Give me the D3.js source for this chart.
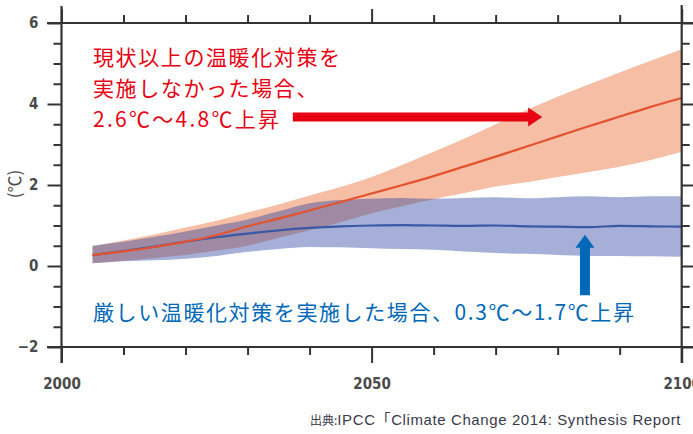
<!DOCTYPE html>
<html><head><meta charset="utf-8">
<script src="https://cdn.jsdelivr.net/npm/d3@7"></script>
<style>html,body{margin:0;padding:0;background:#fff;overflow:hidden}</style>
</head><body><svg id="chart" width="693" height="434"></svg>
<script>
// ---- data ----
const years     = [2005,2010,2015,2020,2025,2030,2035,2040,2045,2050,2055,2060,2065,2070,2075,2080,2085,2090,2095,2100];
const highMean  = [0.27,0.36,0.47,0.60,0.76,0.98,1.17,1.37,1.58,1.79,2.00,2.22,2.46,2.70,2.95,3.20,3.45,3.69,3.93,4.15];
const highUpper = [0.49,0.63,0.78,0.95,1.12,1.32,1.52,1.74,1.95,2.20,2.50,2.82,3.15,3.50,3.85,4.18,4.48,4.78,5.07,5.35];
const highLower = [0.07,0.13,0.20,0.27,0.38,0.50,0.70,0.88,1.08,1.30,1.48,1.65,1.80,1.96,2.07,2.20,2.32,2.45,2.62,2.82];
const lowMean   = [0.27,0.37,0.48,0.60,0.71,0.80,0.88,0.94,0.98,1.00,1.01,1.00,0.99,1.00,0.98,0.97,0.96,0.99,0.98,0.97];
const lowUpper  = [0.50,0.60,0.72,0.85,1.00,1.15,1.35,1.55,1.63,1.66,1.68,1.66,1.68,1.70,1.67,1.70,1.72,1.70,1.72,1.72];
const lowLower  = [0.07,0.12,0.14,0.18,0.25,0.35,0.42,0.47,0.46,0.44,0.42,0.40,0.36,0.32,0.30,0.27,0.25,0.25,0.24,0.23];
const yTickLabels = [-2,0,2,4,6];
const xTickLabels = [2000,2050,2100];
const yLabel = "(℃)";
const highText = ["現状以上の温暖化対策を","実施しなかった場合、","2.6℃～4.8℃上昇"];
const lowText = "厳しい温暖化対策を実施した場合、0.3℃～1.7℃上昇";
const sourcePrefix = "出典:";
const sourceRest = "IPCC「Climate Change 2014: Synthesis Report";
// annotation arrows in data coordinates
const highArrow = {x0:2037.3, x1:2077.5, y:3.68};
const lowArrow  = {x:2084.4, y0:-0.72, y1:0.77};

// ---- layout ----
const svg = d3.select("#chart");
const x = d3.scaleLinear().domain([2000,2100]).range([61.5,681.7]);
const y = d3.scaleLinear().domain([-2,6]).range([347,23]);
const axisColor = "#333";
const tickFont = "'DejaVu Sans Condensed','Liberation Sans Narrow',sans-serif";

const rows = years.map((yr,i)=>({yr, hm:highMean[i], hu:highUpper[i], hl:highLower[i], lm:lowMean[i], lu:lowUpper[i], ll:lowLower[i]}));

const area = (lo,hi)=>d3.area().x(d=>x(d.yr)).y0(d=>y(d[lo])).y1(d=>y(d[hi])).curve(d3.curveMonotoneX);
const line = key=>d3.line().x(d=>x(d.yr)).y(d=>y(d[key])).curve(d3.curveMonotoneX);

svg.append("path").datum(rows).attr("d",area("hl","hu")).attr("fill","#f5bea5");
svg.append("path").datum(rows).attr("d",area("ll","lu")).attr("fill","#2840a0").attr("fill-opacity",0.42);
svg.append("path").datum(rows).attr("d",line("lm")).attr("fill","none").attr("stroke","#3b58a6").attr("stroke-width",2.2);
svg.append("path").datum(rows).attr("d",line("hm")).attr("fill","none").attr("stroke","#e5522e").attr("stroke-width",2.2);

// ---- axes ----
function styleAxis(g){
  g.select(".domain").remove();
  g.selectAll(".tick line").attr("stroke",axisColor).attr("stroke-width",2);
  g.selectAll(".tick text").attr("fill","#4a4a4a").style("font-family",tickFont).style("font-size","15px").style("font-weight","bold");
}
const minorY = d3.range(-2,6.01,0.5).filter(v=>v%2!==0);
const minorX = d3.range(2000,2101,10).filter(v=>v%50!==0);

svg.append("g").attr("transform",`translate(${x(2000)},0)`)
  .call(d3.axisLeft(y).tickValues(yTickLabels).tickSize(14).tickPadding(9).tickFormat(d=>d<0?"\u2212"+Math.abs(d):d)).call(styleAxis);
svg.append("g").attr("transform",`translate(${x(2000)},0)`)
  .call(d3.axisLeft(y).tickValues(minorY).tickSize(8).tickFormat("")).call(styleAxis);
svg.append("g").attr("transform",`translate(${x(2100)},0)`)
  .call(d3.axisRight(y).tickValues(yTickLabels).tickSize(12).tickFormat("")).call(styleAxis);
svg.append("g").attr("transform",`translate(${x(2100)},0)`)
  .call(d3.axisRight(y).tickValues(minorY).tickSize(8).tickFormat("")).call(styleAxis);
svg.append("g").attr("transform",`translate(0,${y(-2)})`)
  .call(d3.axisBottom(x).tickValues(xTickLabels).tickSize(16).tickPadding(15).tickFormat(d3.format("d"))).call(styleAxis);
svg.append("g").attr("transform",`translate(0,${y(-2)})`)
  .call(d3.axisBottom(x).tickValues(minorX).tickSize(8).tickFormat("")).call(styleAxis);
svg.append("g").attr("transform",`translate(0,${y(6)})`)
  .call(d3.axisTop(x).tickValues(xTickLabels).tickSize(14).tickFormat("")).call(styleAxis);
svg.append("g").attr("transform",`translate(0,${y(6)})`)
  .call(d3.axisTop(x).tickValues(minorX).tickSize(8).tickFormat("")).call(styleAxis);

// frame lines
const frame = svg.append("g").attr("stroke",axisColor).attr("stroke-width",2.2);
frame.append("line").attr("x1",x(2000)).attr("x2",x(2000)).attr("y1",6).attr("y2",363);
frame.append("line").attr("x1",x(2100)).attr("x2",x(2100)).attr("y1",5).attr("y2",363);
frame.append("line").attr("x1",47).attr("x2",693).attr("y1",y(6)).attr("y2",y(6));
frame.append("line").attr("x1",47).attr("x2",693).attr("y1",y(-2)).attr("y2",y(-2));

// y label
svg.append("text").attr("transform",`translate(21,184) rotate(-90)`).attr("text-anchor","middle")
  .attr("fill","#4a4a4a").style("font-family","'Noto Sans CJK JP',sans-serif").style("font-size","17px").text(yLabel);

// ---- annotations ----
const jpFont = "'Noto Sans CJK JP','Noto Sans',sans-serif";
const red = "#e60012", blue = "#0068b7";
svg.append("g").selectAll("text").data(highText).join("text")
  .attr("x",93).attr("y",(d,i)=>65+i*31)
  .attr("fill",red).style("font-family",jpFont).style("font-size","21px")
  .style("letter-spacing",(d,i)=>i===2?"0px":"1.6px")
  .each(function(d,i){ if(i===2) d3.select(this).attr("textLength",186).attr("lengthAdjust","spacing"); })
  .text(d=>d);
svg.append("text").attr("x",93).attr("y",320)
  .attr("fill",blue).style("font-family",jpFont).style("font-size","21px").style("letter-spacing","1.6px").text(lowText);

// red arrow
{
  const xa=x(highArrow.x0), xb=x(highArrow.x1), yc=y(highArrow.y), head=14, hw=9.5, bw=4.5;
  svg.append("path").attr("fill",red)
    .attr("d",`M${xa},${yc-bw}L${xb-head},${yc-bw}L${xb-head},${yc-hw}L${xb},${yc}L${xb-head},${yc+hw}L${xb-head},${yc+bw}L${xa},${yc+bw}Z`);
}
// blue arrow
{
  const xc=x(lowArrow.x), yb=y(lowArrow.y0), yt=y(lowArrow.y1), head=13, hw=9.5, bw=5;
  svg.append("path").attr("fill",blue)
    .attr("d",`M${xc-bw},${yb}L${xc-bw},${yt+head}L${xc-hw},${yt+head}L${xc},${yt}L${xc+hw},${yt+head}L${xc+bw},${yt+head}L${xc+bw},${yb}Z`);
}

// source
const src = svg.append("text").attr("x",310).attr("y",425).attr("fill","#3a3a4a")
  .style("font-family","'Liberation Sans','Noto Sans CJK JP',sans-serif");
src.append("tspan").style("font-family","'Noto Sans CJK JP',sans-serif").style("font-size","12px").text(sourcePrefix);
src.append("tspan").style("font-size","15px").style("letter-spacing","0.6px").text(sourceRest);
</script>
</body></html>
